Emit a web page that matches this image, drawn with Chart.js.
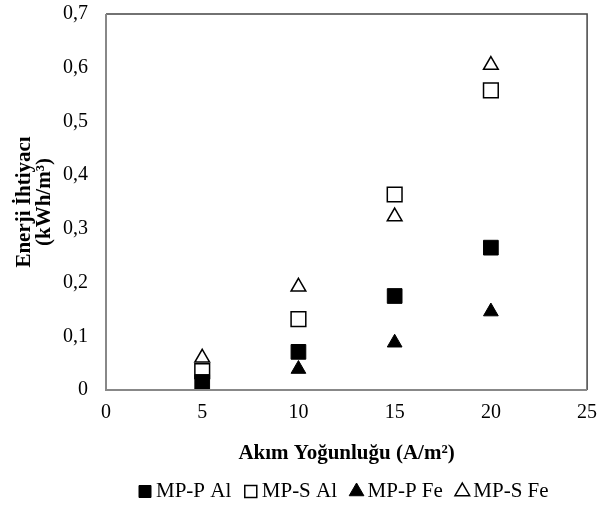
<!DOCTYPE html>
<html>
<head>
<meta charset="utf-8">
<script src="https://cdn.jsdelivr.net/npm/chart.js@4"></script>
<style>
  html, body { margin: 0; padding: 0; background: #fff; }
  #wrap { width: 599px; height: 512px; }
</style>
</head>
<body>
<div id="wrap"><canvas id="chart" width="599" height="512"></canvas></div>
<script>
// current density (A/m2)
let currents = [5, 10, 15, 20];
let mppAl = [0.015, 0.071, 0.175, 0.265];
let mpsAl = [0.035, 0.132, 0.364, 0.558];
let mppFe = [0.005, 0.039, 0.088, 0.146];
let mpsFe = [0.060, 0.192, 0.323, 0.605];
let seriesNames = ['MP-P Al', 'MP-S Al', 'MP-P Fe', 'MP-S Fe'];

function toPoints(values) {
    return values.map((v, i) => ({ x: currents[i], y: v }));
}

let serif = "'Liberation Serif', 'Times New Roman', serif";

// draws the plot frame like excel
let frame = {
    id: 'frame',
    afterDraw(chart) {
        let a = chart.chartArea;
        let ctx = chart.ctx;
        ctx.save();
        ctx.lineWidth = 1.5;
        ctx.strokeStyle = '#444';
        ctx.beginPath();
        ctx.moveTo(a.left, a.top);
        ctx.lineTo(a.right, a.top);
        ctx.lineTo(a.right, a.bottom);
        ctx.stroke();
        ctx.strokeStyle = '#888';
        ctx.lineWidth = 2;
        ctx.beginPath();
        ctx.moveTo(a.left, a.top);
        ctx.lineTo(a.left, a.bottom);
        ctx.lineTo(a.right, a.bottom);
        ctx.stroke();
        ctx.restore();
    }
};

let filled = { backgroundColor: '#000', borderColor: '#000', borderWidth: 1 };
let open = { backgroundColor: '#fff', borderColor: '#000', borderWidth: 1.5 };

let chart = new Chart(document.getElementById('chart'), {
    type: 'scatter',
    data: {
        datasets: [
            Object.assign({ label: seriesNames[0], data: toPoints(mppAl), pointStyle: 'rect', pointRadius: 10.4, pointHoverRadius: 10.4 }, filled),
            Object.assign({ label: seriesNames[1], data: toPoints(mpsAl), pointStyle: 'rect', pointRadius: 10.4, pointHoverRadius: 10.4 }, open),
            Object.assign({ label: seriesNames[2], data: toPoints(mppFe), pointStyle: 'triangle', pointRadius: 8.5, pointHoverRadius: 8.5 }, filled),
            Object.assign({ label: seriesNames[3], data: toPoints(mpsFe), pointStyle: 'triangle', pointRadius: 8.5, pointHoverRadius: 8.5 }, open)
        ]
    },
    options: {
        responsive: false,
        animation: false,
        layout: { padding: { top: 0, right: 0, left: 0, bottom: 0 } },
        plugins: {
            tooltip: { enabled: false },
            legend: {
                position: 'bottom',
                fullSize: false,
                labels: {
                    usePointStyle: true,
                    boxWidth: 1,
                    boxHeight: 12,
                    padding: 19,
                    color: '#000',
                    font: { family: serif, size: 21 }
                }
            }
        },
        scales: {
            x: {
                type: 'linear',
                min: 0,
                max: 25,
                ticks: { stepSize: 5, color: '#000', padding: 0, font: { family: serif, size: 20 } },
                // invisible tick marks give the gap under the axis
                grid: { drawOnChartArea: false, drawTicks: true, tickLength: 11, color: 'rgba(0,0,0,0)' },
                border: { display: false },
                title: {
                    display: true,
                    text: 'Akım Yoğunluğu (A/m²)',
                    color: '#000',
                    padding: { top: 0, bottom: -4 },
                    font: { family: serif, size: 21, weight: 'bold' }
                },
                afterFit(scale) { scale.height = 72; }
            },
            y: {
                min: 0,
                max: 0.7,
                ticks: {
                    stepSize: 0.1,
                    color: '#000',
                    padding: 2,
                    font: { family: serif, size: 20 },
                    callback: v => v === 0 ? '0' : v.toFixed(1).replace('.', ',')
                },
                grid: { drawOnChartArea: false, drawTicks: true, tickLength: 16, color: 'rgba(0,0,0,0)' },
                border: { display: false },
                title: {
                    display: true,
                    text: ['Enerji İhtiyacı', '(kWh/m³)'],
                    color: '#000',
                    padding: { top: 15, bottom: 0 },
                    font: { family: serif, size: 21, weight: 'bold', lineHeight: 0.95 }
                },
                afterFit(scale) { scale.width = 106; }
            }
        }
    },
    plugins: [frame]
});
</script>
</body>
</html>
